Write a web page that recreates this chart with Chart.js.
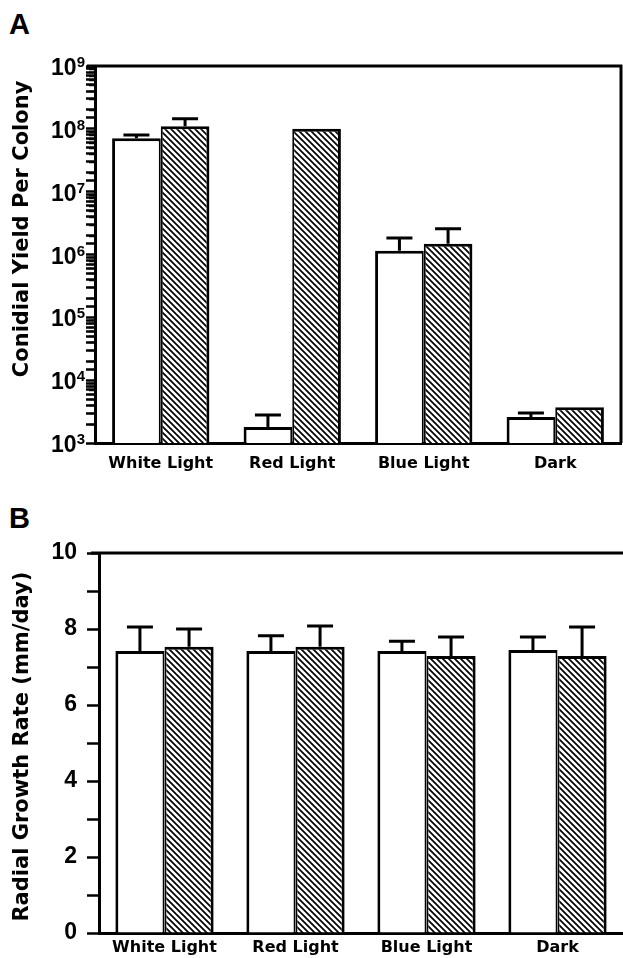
<!DOCTYPE html>
<html>
<head>
<meta charset="utf-8">
<script src="https://cdn.jsdelivr.net/npm/chart.js@4"></script>
<style>
  body { margin: 0; background: #fff; width: 623px; height: 958px; position: relative; overflow: hidden; }
  .panel { position: absolute; left: 0; width: 623px; }
  .letter { position: absolute; left: 9px; font: bold 29px 'Liberation Sans', Arial, sans-serif; line-height: 1; color: #000; }
</style>
</head>
<body>
<div class="letter" style="top:10px">A</div>
<div class="panel" style="top:0; height:480px"><canvas id="yieldChart"></canvas></div>
<div class="letter" style="top:504px">B</div>
<div class="panel" style="top:480px; height:478px"><canvas id="growthChart"></canvas></div>

<script>
// categories
const conditions = ['White Light', 'Red Light', 'Blue Light', 'Dark'];

// A - conidial yield per colony (open / hatched bars), error bar tops
const yieldOpen = [7.1e7, 1.8e3, 1.15e6, 2.6e3];
const yieldOpenTop = [8.0e7, 2.8e3, 1.83e6, 3.0e3];
const yieldHatched = [1.1e8, 1.0e8, 1.48e6, 3.7e3];
const yieldHatchedTop = [1.45e8, null, 2.56e6, null];
const yieldExponents = [3, 4, 5, 6, 7, 8, 9];
const minorSteps = [2, 3, 4, 5, 6, 7, 8, 9];

// B - radial growth rate (mm/day)
const growthOpen = [7.42, 7.42, 7.42, 7.45];
const growthOpenTop = [8.05, 7.82, 7.68, 7.79];
const growthHatched = [7.53, 7.53, 7.29, 7.29];
const growthHatchedTop = [8.0, 8.08, 7.79, 8.05];

function hatch() {
    const c = document.createElement('canvas');
    c.width = c.height = 6;
    const g = c.getContext('2d');
    g.fillStyle = '#fff';
    g.fillRect(0, 0, 6, 6);
    g.strokeStyle = '#000';
    g.lineWidth = 1.7;
    g.beginPath();
    g.moveTo(-1, -1); g.lineTo(7, 7);
    g.moveTo(-1, 5); g.lineTo(1, 7);
    g.moveTo(5, -1); g.lineTo(7, 1);
    g.stroke();
    return g.createPattern(c, 'repeat');
}

const errorBars = {
    id: 'errorBars',
    afterDatasetsDraw(chart) {
        const ctx = chart.ctx;
        const y = chart.scales.y;
        chart.data.datasets.forEach((ds, i) => {
            chart.getDatasetMeta(i).data.forEach((bar, j) => {
                const top = ds.errTop[j];
                if (top == null) return;
                const yTop = y.getPixelForValue(top);
                ctx.save();
                ctx.strokeStyle = '#000';
                ctx.lineWidth = 3;
                ctx.beginPath();
                ctx.moveTo(bar.x, bar.y);
                ctx.lineTo(bar.x, yTop);
                ctx.moveTo(bar.x - 13, yTop);
                ctx.lineTo(bar.x + 13, yTop);
                ctx.stroke();
                ctx.restore();
            });
        });
    }
};

// top (and right) frame line
const frame = {
    id: 'frame',
    afterDraw(chart, args, opts) {
        const { ctx, chartArea: a } = chart;
        ctx.save();
        ctx.strokeStyle = '#000';
        ctx.lineWidth = 3;
        ctx.beginPath();
        ctx.moveTo(a.left - 8, a.top);
        ctx.lineTo(a.right, a.top);
        if (opts.right) ctx.lineTo(a.right, a.bottom);
        ctx.stroke();
        ctx.restore();
    }
};

// log axis: "10" with a raised exponent, plus the 2..9 minor marks
const powerLabels = {
    id: 'powerLabels',
    afterDraw(chart) {
        const { ctx } = chart;
        const y = chart.scales.y;
        const axisX = y.right;
        const right = axisX - 10;
        ctx.save();
        ctx.fillStyle = '#000';
        ctx.strokeStyle = '#000';
        ctx.lineWidth = 1.4;
        ctx.beginPath();
        yieldExponents.slice(0, -1).forEach(e => {
            minorSteps.forEach(m => {
                const py = Math.round(y.getPixelForValue(m * Math.pow(10, e))) + 0.5;
                ctx.moveTo(axisX - 6, py);
                ctx.lineTo(axisX, py);
            });
        });
        ctx.stroke();
        ctx.textBaseline = 'alphabetic';
        ctx.textAlign = 'right';
        yieldExponents.forEach(e => {
            const py = y.getPixelForValue(Math.pow(10, e));
            ctx.font = "bold 15px 'Liberation Sans', Arial, sans-serif";
            const ew = ctx.measureText(String(e)).width;
            ctx.fillText(String(e), right, py + 1);
            ctx.font = "bold 23px 'Liberation Sans', Arial, sans-serif";
            ctx.fillText('10', right - ew, py + 9);
        });
        ctx.restore();
    }
};

const tickFont = { family: "'Liberation Sans', Arial, sans-serif", weight: 'bold', size: 23 };
const catFont = { family: "'DejaVu Sans', sans-serif", weight: 'bold', size: 16 };
const titleFont = { family: "'DejaVu Sans', sans-serif", weight: 'bold', size: 21 };

function makeDatasets(open, openTop, hatched, hatchedTop) {
    return [{
        data: open,
        errTop: openTop,
        backgroundColor: '#fff',
        borderColor: '#000',
        borderWidth: { top: 3, left: 3, right: 2, bottom: 0 }
    }, {
        data: hatched,
        errTop: hatchedTop,
        backgroundColor: hatch(),
        borderColor: '#000',
        borderWidth: { top: 3, left: 2, right: 3, bottom: 0 }
    }];
}

new Chart(document.getElementById('yieldChart'), {
    type: 'bar',
    data: { labels: conditions, datasets: makeDatasets(yieldOpen, yieldOpenTop, yieldHatched, yieldHatchedTop) },
    options: {
        responsive: true,
        maintainAspectRatio: false,
        animation: false,
        layout: { padding: { top: 66, right: 2, left: 0, bottom: 0 } },
        datasets: { bar: { categoryPercentage: 0.74, barPercentage: 1.0 } },
        plugins: { legend: { display: false }, tooltip: { enabled: false }, frame: { right: true } },
        scales: {
            x: {
                grid: { display: false, drawTicks: false },
                border: { display: true, width: 3, color: '#000' },
                ticks: { color: '#000', font: catFont, padding: 11 },
                afterFit: s => { s.height = 37; }
            },
            y: {
                type: 'logarithmic',
                min: Math.pow(10, yieldExponents[0]),
                max: Math.pow(10, yieldExponents[yieldExponents.length - 1]),
                afterFit: s => { s.width = 95; },
                border: { display: true, width: 3, color: '#000' },
                grid: { drawOnChartArea: false, tickLength: 9, tickColor: '#000', tickWidth: 2.5 },
                ticks: { display: false },
                title: {
                    display: true,
                    text: '       Conidial Yield Per Colony',
                    color: '#000',
                    font: titleFont,
                    padding: { top: 10, bottom: 0 }
                }
            }
        }
    },
    plugins: [errorBars, frame, powerLabels]
});

new Chart(document.getElementById('growthChart'), {
    type: 'bar',
    data: { labels: conditions, datasets: makeDatasets(growthOpen, growthOpenTop, growthHatched, growthHatchedTop) },
    options: {
        responsive: true,
        maintainAspectRatio: false,
        animation: false,
        layout: { padding: { top: 73, right: 0, left: 0, bottom: 0 } },
        datasets: { bar: { categoryPercentage: 0.75, barPercentage: 1.0 } },
        plugins: { legend: { display: false }, tooltip: { enabled: false }, frame: { right: false } },
        scales: {
            x: {
                grid: { display: false, drawTicks: false },
                border: { display: true, width: 3, color: '#000' },
                ticks: { color: '#000', font: catFont, padding: 5 },
                afterFit: s => { s.height = 25; }
            },
            y: {
                min: 0,
                max: 10,
                afterFit: s => { s.width = 99; },
                border: { display: true, width: 3, color: '#000' },
                grid: { drawOnChartArea: false, tickLength: 12, tickColor: '#000', tickWidth: 2.5 },
                ticks: {
                    stepSize: 1,
                    color: '#000',
                    font: tickFont,
                    padding: 10,
                    callback: v => (v % 2 === 0 ? v : '')
                },
                title: { display: true, text: 'Radial Growth Rate (mm/day) ', color: '#000', font: titleFont, padding: { top: 10, bottom: 0 } }
            }
        }
    },
    plugins: [errorBars, frame]
});
</script>
</body>
</html>
